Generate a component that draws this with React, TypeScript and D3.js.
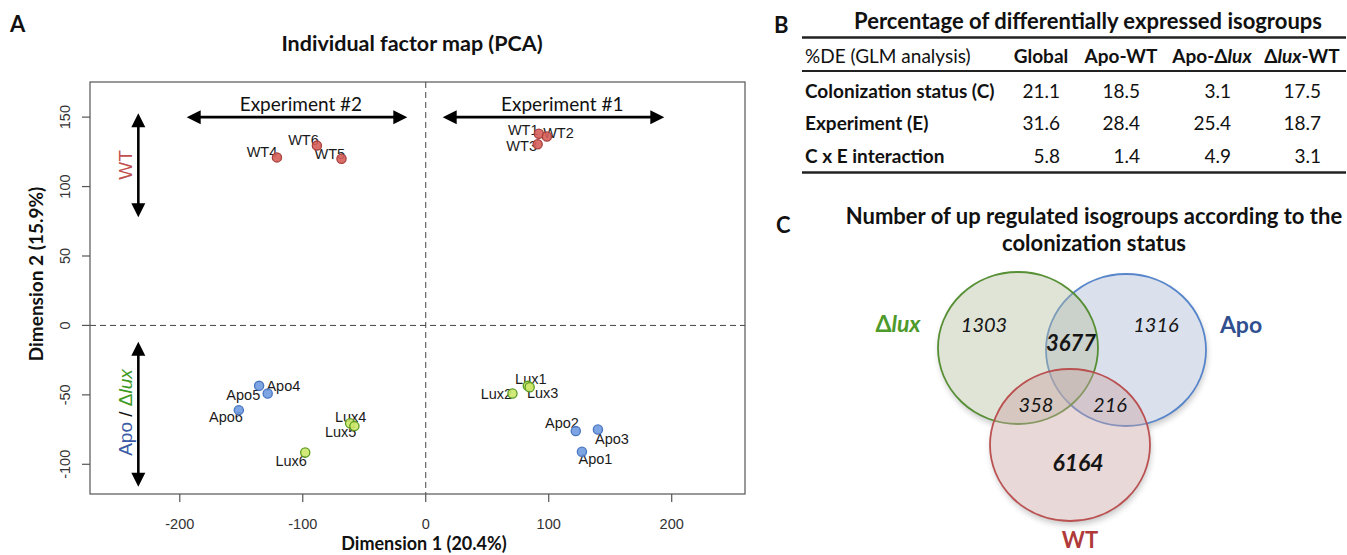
import React from 'react';
import * as d3 from 'd3';

// ---------- Panel A data (PCA individual factor map) ----------
const sampleNames = ['WT1', 'WT2', 'WT3', 'WT4', 'WT5', 'WT6', 'Apo1', 'Apo2', 'Apo3', 'Apo4', 'Apo5', 'Apo6', 'Lux1', 'Lux2', 'Lux3', 'Lux4', 'Lux5', 'Lux6'];
const sampleGroups = ['WT', 'WT', 'WT', 'WT', 'WT', 'WT', 'Apo', 'Apo', 'Apo', 'Apo', 'Apo', 'Apo', 'Lux', 'Lux', 'Lux', 'Lux', 'Lux', 'Lux'];
const dim1 = [92, 98.5, 91, -121, -68.5, -88.5, 127, 122, 140, -135.5, -128.5, -152, 83, 70.5, 84.5, -61.5, -58, -98];
const dim2 = [138, 136, 130.5, 121, 120, 129.5, -91, -76, -75, -43.5, -49, -61, -43.5, -49, -44.5, -70.5, -72.5, -91.5];
const xTicks = [-200, -100, 0, 100, 200];
const yTicks = [-100, -50, 0, 50, 100, 150];
const xDomain = [-273, 259.6];
const yDomain = [-121.4, 175.3];

// annotation arrows (data units)
const hArrows = [
  { label: 'Experiment #2', y: 150, x1: -194.4, x2: -15, labelX: -101.5 },
  { label: 'Experiment #1', y: 150, x1: 13.8, x2: 194, labelX: 111 },
];
const vArrows = [
  { x: -233.7, y1: 152.8, y2: 77.9 },
  { x: -233.7, y1: -11.7, y2: -116.1 },
];

// ---------- Panel B data (table) ----------
const tableColumns = ['Global', 'Apo-WT', 'Apo-Δlux', 'Δlux-WT'];
const tableRows = ['Colonization status (C)', 'Experiment (E)', 'C x E interaction'];
const colGlobal = ['21.1', '31.6', '5.8'];
const colApoWT = ['18.5', '28.4', '1.4'];
const colApoLux = ['3.1', '25.4', '4.9'];
const colLuxWT = ['17.5', '18.7', '3.1'];

// ---------- Panel C data (Venn) ----------
const vennSets = ['Δlux', 'Apo', 'WT'];
const vennRegions = ['Δlux only', 'Apo only', 'Δlux ∩ Apo', 'Δlux ∩ WT', 'Apo ∩ WT', 'WT only'];
const vennCounts = [1303, 1316, 3677, 358, 216, 6164];

// ---------- styling / layout ----------
const groupFill: Record<string, string> = { WT: '#d65f5a', Apo: '#6f9ae0', Lux: '#cde86a' };
const groupStroke: Record<string, string> = { WT: '#a8403c', Apo: '#4a76c0', Lux: '#5c9a22' };
const labelOffsets: [number, number][] = [
  [-15.7, -4], [11.6, -3.7], [-16, 1.7], [-15, -5], [-11.7, -5], [-13.4, -5.7],
  [13.5, 7.6], [-13.8, -7.7], [14, 9], [24.3, 0], [-24.4, 1.7], [-12.8, 6.7],
  [3, -6.4], [-16, 0.7], [13, 6], [0.5, -6.6], [-13.8, 6.3], [-14, 8.4],
];

const SANS = 'Lato, "Open Sans", sans-serif';
const ARIAL = '"Liberation Sans", Arial, sans-serif';

function LuxText({ s }: { s: string }) {
  const parts = s.split('lux');
  const out: any[] = [];
  parts.forEach((p, i) => {
    if (p) out.push(<tspan key={'p' + i}>{p}</tspan>);
    if (i < parts.length - 1) out.push(<tspan key={'l' + i} fontStyle="italic">lux</tspan>);
  });
  return <>{out}</>;
}

export default function App() {
  const W = 1347, H = 555;
  const x = d3.scaleLinear().domain(xDomain).range([90, 745]);
  const y = d3.scaleLinear().domain(yDomain).range([494, 82]);

  const headLen = 14;
  const hHalf = 7;

  // table layout
  const colCenters = [1041, 1121, 1212, 1302];
  const colValues = [colGlobal, colApoWT, colApoLux, colLuxWT];
  const rowBaselines = [97.5, 130, 163];
  const TF = 19;

  // venn layout
  const vennLayout = [
    { cx: 1018, cy: 348, stroke: '#4e8a2a', fill: '#b4bf9f' },
    { cx: 1126, cy: 350, stroke: '#4f7fc8', fill: '#aab8d2' },
    { cx: 1070, cy: 445, stroke: '#b84a4a', fill: '#c9a3a3' },
  ];
  const drawOrder = [1, 0, 2];
  const rx = 80, ry = 76;
  const vennLabelPos = [
    { x: 984, y: 332, bold: false, size: 20 },
    { x: 1156, y: 332, bold: false, size: 20 },
    { x: 1071, y: 351, bold: true, size: 22 },
    { x: 1036, y: 412, bold: false, size: 20 },
    { x: 1110, y: 412, bold: false, size: 20 },
    { x: 1078, y: 471, bold: true, size: 23 },
  ];
  const setLabelPos = [
    { x: 898, y: 332, color: '#4e9a2a', size: 23 },
    { x: 1241, y: 333, color: '#2f4f8f', size: 23 },
    { x: 1080, y: 548, color: '#b03a3a', size: 22 },
  ];

  return (
    <div style={{ position: 'absolute', left: 0, top: 0 }}>
      <svg width={W} height={H} style={{ display: 'block', background: '#fff' }}>
        <defs>
          <filter id="blur" x="-20%" y="-20%" width="140%" height="140%">
            <feGaussianBlur stdDeviation="3" />
          </filter>
          <mask id="outside">
            <rect x={0} y={0} width={W} height={H} fill="white" />
            {vennLayout.map((c, i) => (
              <ellipse key={i} cx={c.cx} cy={c.cy} rx={rx} ry={ry} fill="black" />
            ))}
          </mask>
        </defs>

        {/* ================= Panel A ================= */}
        <text x={10} y={32} fontFamily={SANS} fontWeight="bold" fontSize={22} fill="#111">A</text>
        <text x={412} y={51} textAnchor="middle" fontFamily={SANS} fontWeight="bold" fontSize={21.5} fill="#111">
          Individual factor map (PCA)
        </text>

        {/* zero lines */}
        <line x1={x(0)} x2={x(0)} y1={82} y2={494} stroke="#444" strokeDasharray="6,4" strokeWidth={1} />
        <line x1={90} x2={745} y1={y(0)} y2={y(0)} stroke="#444" strokeDasharray="6,4" strokeWidth={1} />

        {/* box */}
        <rect x={90} y={82} width={655} height={412} fill="none" stroke="#555" strokeWidth={1.2} />

        {/* x axis */}
        {xTicks.map((t) => (
          <g key={'xt' + t}>
            <line x1={x(t)} x2={x(t)} y1={494} y2={502} stroke="#555" strokeWidth={1.2} />
            <text x={x(t)} y={529} textAnchor="middle" fontFamily={ARIAL} fontSize={14.5} fill="#333">{t}</text>
          </g>
        ))}
        {/* y axis */}
        {yTicks.map((t) => (
          <g key={'yt' + t}>
            <line x1={82} x2={90} y1={y(t)} y2={y(t)} stroke="#555" strokeWidth={1.2} />
            <text transform={`translate(70,${y(t)}) rotate(-90)`} textAnchor="middle" fontFamily={ARIAL} fontSize={14.5} fill="#333">{t}</text>
          </g>
        ))}
        <text x={424} y={550} textAnchor="middle" fontFamily={SANS} fontWeight="bold" fontSize={18} fill="#111">
          Dimension 1 (20.4%)
        </text>
        <text transform={`translate(43,274) rotate(-90)`} textAnchor="middle" fontFamily={SANS} fontWeight="bold" fontSize={19} fill="#111">
          Dimension 2 (15.9%)
        </text>

        {/* horizontal arrows */}
        {hArrows.map((a, i) => {
          const xa = x(a.x1), xb = x(a.x2), yy = y(a.y);
          return (
            <g key={'ha' + i}>
              <line x1={xa + headLen - 1} x2={xb - headLen + 1} y1={yy} y2={yy} stroke="#000" strokeWidth={2.6} />
              <polygon points={`${xa},${yy} ${xa + headLen},${yy - hHalf} ${xa + headLen},${yy + hHalf}`} fill="#000" />
              <polygon points={`${xb},${yy} ${xb - headLen},${yy - hHalf} ${xb - headLen},${yy + hHalf}`} fill="#000" />
              <text x={x(a.labelX)} y={yy - 6} textAnchor="middle" fontFamily={SANS} fontSize={19} fill="#111">{a.label}</text>
            </g>
          );
        })}
        {/* vertical arrows */}
        {vArrows.map((a, i) => {
          const xx = x(a.x), ya = y(a.y1), yb = y(a.y2);
          return (
            <g key={'va' + i}>
              <line x1={xx} x2={xx} y1={ya + headLen - 1} y2={yb - headLen + 1} stroke="#000" strokeWidth={2.6} />
              <polygon points={`${xx},${ya} ${xx - hHalf},${ya + headLen} ${xx + hHalf},${ya + headLen}`} fill="#000" />
              <polygon points={`${xx},${yb} ${xx - hHalf},${yb - headLen} ${xx + hHalf},${yb - headLen}`} fill="#000" />
            </g>
          );
        })}
        <text transform={`translate(131.5,165) rotate(-90)`} textAnchor="middle" fontFamily={ARIAL} fontSize={19} fill="#c0504d">WT</text>
        <text transform={`translate(131.5,412.5) rotate(-90)`} textAnchor="middle" fontFamily={ARIAL} fontSize={19}>
          <tspan fill="#3b5ba5">Apo</tspan>
          <tspan fill="#111"> / </tspan>
          <tspan fill="#3d9a1e">Δ</tspan>
          <tspan fill="#3d9a1e" fontStyle="italic">lux</tspan>
        </text>

        {/* point labels */}
        {sampleNames.map((n, i) => (
          <text
            key={'lab' + n}
            x={x(dim1[i]) + labelOffsets[i][0]}
            y={y(dim2[i]) + labelOffsets[i][1]}
            textAnchor="middle"
            dominantBaseline="central"
            fontFamily={ARIAL}
            fontSize={14.5}
            fill="#1a1a1a"
          >
            {n}
          </text>
        ))}
        {/* points */}
        {sampleNames.map((n, i) => (
          <circle
            key={'pt' + n}
            cx={x(dim1[i])}
            cy={y(dim2[i])}
            r={4.6}
            fill={groupFill[sampleGroups[i]]}
            fillOpacity={0.9}
            stroke={groupStroke[sampleGroups[i]]}
            strokeWidth={1.3}
          />
        ))}

        {/* ================= Panel B ================= */}
        <text x={774} y={33} fontFamily={SANS} fontWeight="bold" fontSize={22} fill="#111">B</text>
        <text x={1088} y={29} textAnchor="middle" fontFamily={SANS} fontWeight="bold" fontSize={22} fill="#111">
          Percentage of differentially expressed isogroups
        </text>
        <line x1={802} x2={1346} y1={37.5} y2={37.5} stroke="#222" strokeWidth={2.6} />
        <line x1={802} x2={1346} y1={71} y2={71} stroke="#222" strokeWidth={2.2} />
        <line x1={802} x2={1346} y1={172.5} y2={172.5} stroke="#222" strokeWidth={2.6} />
        <text x={805} y={63} fontFamily={SANS} fontSize={TF} fill="#111">%DE (GLM analysis)</text>
        {tableColumns.map((c, j) => (
          <text key={'h' + j} x={colCenters[j]} y={63} textAnchor="middle" fontFamily={SANS} fontWeight="bold" fontSize={TF} fill="#111">
            <LuxText s={c} />
          </text>
        ))}
        {tableRows.map((r, i) => (
          <g key={'r' + i}>
            <text x={805} y={rowBaselines[i]} fontFamily={SANS} fontWeight="bold" fontSize={TF} fill="#111">{r}</text>
            {colValues.map((col, j) => (
              <text key={'v' + j} x={colCenters[j] + 19} y={rowBaselines[i]} textAnchor="end" fontFamily={SANS} fontSize={TF} fill="#111">
                {col[i]}
              </text>
            ))}
          </g>
        ))}

        {/* ================= Panel C ================= */}
        <text x={776} y={233} fontFamily={SANS} fontWeight="bold" fontSize={22} fill="#111">C</text>
        <text x={1094} y={224} textAnchor="middle" fontFamily={SANS} fontWeight="bold" fontSize={22} fill="#111">
          Number of up regulated  isogroups according to the
        </text>
        <text x={1094} y={251} textAnchor="middle" fontFamily={SANS} fontWeight="bold" fontSize={22} fill="#111">
          colonization status
        </text>

        {/* shadows */}
        <g mask="url(#outside)">
          {vennLayout.map((c, i) => (
            <ellipse key={'sh' + i} cx={c.cx + 1} cy={c.cy + 4} rx={rx} ry={ry} fill="#000" opacity={0.22} filter="url(#blur)" />
          ))}
        </g>
        {drawOrder.map((i) => {
          const c = vennLayout[i];
          return (
            <ellipse key={'v' + i} cx={c.cx} cy={c.cy} rx={rx} ry={ry} fill={c.fill} fillOpacity={0.42} stroke={c.stroke} strokeWidth={1.8} strokeOpacity={0.95} />
          );
        })}
        {vennCounts.map((v, i) => (
          <text
            key={'vc' + i}
            x={vennLabelPos[i].x}
            y={vennLabelPos[i].y}
            textAnchor="middle"
            fontFamily={SANS}
            fontStyle="italic"
            fontWeight={vennLabelPos[i].bold ? 'bold' : 'normal'}
            fontSize={vennLabelPos[i].size}
            fill="#151515"
          >
            <title>{vennRegions[i]}</title>
            {v}
          </text>
        ))}
        {vennSets.map((s, i) => (
          <text
            key={'vs' + i}
            x={setLabelPos[i].x}
            y={setLabelPos[i].y}
            textAnchor="middle"
            fontFamily={SANS}
            fontWeight="bold"
            fontSize={setLabelPos[i].size}
            fill={setLabelPos[i].color}
          >
            <LuxText s={s} />
          </text>
        ))}
      </svg>
    </div>
  );
}
